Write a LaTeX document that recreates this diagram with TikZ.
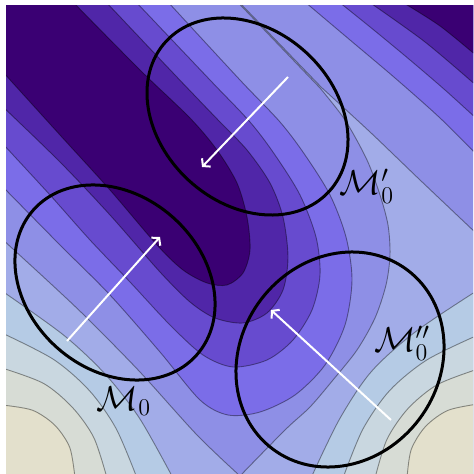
\documentclass[tikz,border=0pt]{standalone}
\usetikzlibrary{arrows.meta}
\definecolor{lvA}{HTML}{3A0073}
\definecolor{lvB}{HTML}{5026A8}
\definecolor{lvC}{HTML}{674BCF}
\definecolor{lvD}{HTML}{7B6DE8}
\definecolor{lvE}{HTML}{8E8FE6}
\definecolor{lvF}{HTML}{A2ACE8}
\definecolor{lvG}{HTML}{B5CBE5}
\definecolor{lvH}{HTML}{C9D7E0}
\definecolor{lvI}{HTML}{D7DCD5}
\definecolor{lvJ}{HTML}{E3E0CC}
\begin{document}
\begin{tikzpicture}[
    x=0.5pt, y=-0.5pt,
    band/.style={fill=#1, draw=black, draw opacity=0.4, line width=0.45pt},
    rim/.style={draw=black, line width=1.5pt},
    flow/.style={draw=white, line width=1pt, -{Straight Barb[length=2.5pt,width=6pt]}},
    tag/.style={font=\LARGE, inner sep=0pt}
]
    \useasboundingbox (0,0) rectangle (473,474);
    \begin{scope}
    \clip (6,6) rectangle (473,474);
    % --- Base level ---
    \fill[lvE] (0,0) rectangle (480,480);

    % --- Main valley (top left to centre) ---
    \filldraw[band=lvD] plot[smooth] coordinates {(168,2) (240,80) (280,122) (305,155) (330,195) (346,237) (352,280) (345,325) (325,365) (295,395) (260,412) (228,415) (200,400) (160,352) (110,295) (60,245) (2,186)} -- (-10,-10) -- cycle;
    \filldraw[band=lvC] plot[smooth] coordinates {(136,2) (210,80) (250,122) (275,155) (300,195) (316,237) (320,275) (312,310) (293,340) (267,360) (233,367) (203,355) (170,325) (130,282) (90,240) (50,195) (2,143)} -- (-10,-10) -- cycle;
    \filldraw[band=lvB] plot[smooth] coordinates {(106,2) (175,75) (220,122) (247,150) (270,183) (283,217) (288,257) (283,290) (267,313) (243,323) (215,318) (190,302) (160,272) (110,215) (60,162) (2,106)} -- (-10,-10) -- cycle;
    \filldraw[band=lvA] plot[smooth] coordinates {(73,2) (140,70) (190,118) (217,150) (237,183) (247,217) (250,250) (243,273) (227,285) (207,283) (183,270) (157,245) (110,190) (60,135) (2,71)} -- (-10,-10) -- cycle;

    % --- Valley (top right corner) ---
    \filldraw[band=lvD] plot[smooth] coordinates {(305,2) (350,40) (395,78) (440,118) (478,156)} -- (485,156) -- (485,-10) -- cycle;
    \filldraw[band=lvC] plot[smooth] coordinates {(339,2) (375,31) (410,60) (445,90) (478,120)} -- (485,120) -- (485,-10) -- cycle;
    \filldraw[band=lvB] plot[smooth] coordinates {(369,2) (425,42) (478,87)} -- (485,87) -- (485,-10) -- cycle;
    \filldraw[band=lvA] plot[smooth] coordinates {(402,2) (440,26) (478,57)} -- (485,57) -- (485,-10) -- cycle;

    % --- Bump (bottom left) ---
    \filldraw[band=lvF] plot[smooth] coordinates {(2,239) (50,283) (87,318) (140,372) (197,435) (240,476)} -- (-10,485) -- cycle;
    \filldraw[band=lvG] plot[smooth] coordinates {(2,291) (63.6,335.1) (105.5,374.5) (139.7,418.6) (173,478)} -- (-10,485) -- cycle;
    \filldraw[band=lvH] plot[smooth] coordinates {(2,333) (53.5,359.4) (89.4,390.6) (116,428.4) (137,478)} -- (-10,485) -- cycle;
    \filldraw[band=lvI] plot[smooth] coordinates {(2,368) (43.5,383.4) (72.5,407.5) (93.8,437.6) (107,478)} -- (-10,485) -- cycle;
    \filldraw[band=lvJ] plot[smooth] coordinates {(2,405) (32.4,410.2) (54.8,425.2) (69.8,447.6) (75,478)} -- (-10,485) -- cycle;

    % --- Ridge and bump (right) ---
    \filldraw[band=lvF] plot[smooth] coordinates {(240,476) (285,430) (310,407) (333,380) (357,350) (375,318) (386,285) (390,255) (388,225) (380,195) (367,160) (345,120) (320,88)} -- (237.5,2) -- (239,2) -- plot[smooth] coordinates {(321.5,87.5) (370,132) (420,180) (478,235)} -- (485,235) -- (485,485) -- (240,485) -- cycle;
    \filldraw[band=lvG] plot[smooth] coordinates {(311,478) (339.2,419.7) (371,372) (415.3,331.9) (478,290)} -- (485,290) -- (485,485) -- cycle;
    \filldraw[band=lvH] plot[smooth] coordinates {(343,478) (362.7,429.5) (389.6,390.6) (426.9,359.9) (478,335)} -- (485,335) -- (485,485) -- cycle;
    \filldraw[band=lvI] plot[smooth] coordinates {(375,478) (386.9,439.5) (407.8,408.8) (437.2,384.7) (478,369)} -- (485,369) -- (485,485) -- cycle;
    \filldraw[band=lvJ] plot[smooth] coordinates {(407,478) (411.2,449.6) (425.5,426.5) (447.8,410.4) (478,404)} -- (485,404) -- (485,485) -- cycle;
    \end{scope}

    % --- Neighbourhoods ---
    \draw[rim, rotate around={-42.6:(247.5,116.5)}] (247.5,116.5) ellipse [x radius=55.4pt, y radius=43.4pt];
    \draw[rim, rotate around={-41.7:(115,282.5)}] (115,282.5) ellipse [x radius=54.6pt, y radius=43.6pt];
    \draw[rim, rotate around={52.9:(340,359.5)}] (340,359.5) ellipse [x radius=56pt, y radius=49.6pt];

    % --- Directions ---
    \coordinate (a1) at (288,77);
    \coordinate (b1) at (202,167);
    \coordinate (a0) at (67,341);
    \coordinate (b0) at (160,237);
    \coordinate (a2) at (391,420);
    \coordinate (b2) at (271,310);
    \draw[flow] (a1) -- (b1);
    \draw[flow] (a0) -- (b0);
    \draw[flow] (a2) -- (b2);

    % --- Labels ---
    \node[tag] (m0) at (124,401) {$\mathcal{M}_0$};
    \node[tag] (m1) at (367,186) {$\mathcal{M}'_0$};
    \node[tag] (m2) at (402,343) {$\mathcal{M}''_0$};
\end{tikzpicture}
\end{document}
